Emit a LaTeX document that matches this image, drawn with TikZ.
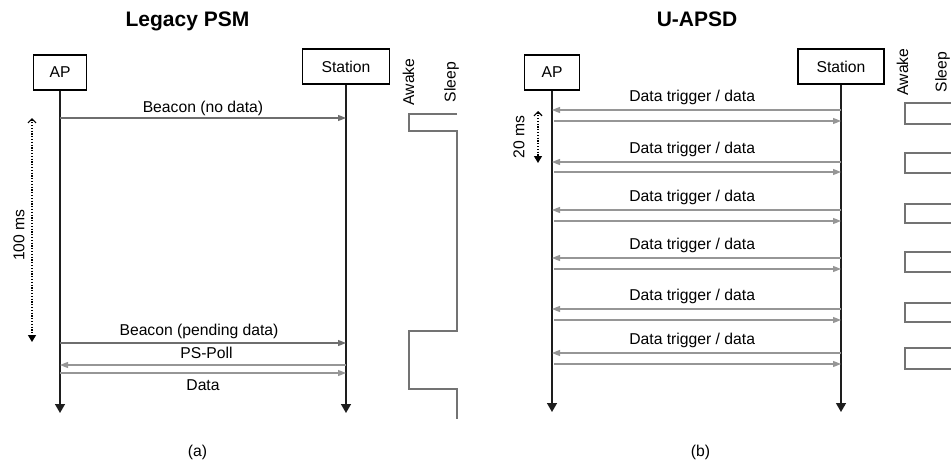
\documentclass[tikz,border=0pt]{standalone}
\usepackage{fontspec}
\setmainfont{Liberation Sans}
\usetikzlibrary{arrows.meta}
\definecolor{LifeColor}{RGB}{30,30,30}
\definecolor{MsgColor}{RGB}{110,110,110}
\definecolor{ReplyColor}{RGB}{150,150,150}
\definecolor{StateColor}{RGB}{115,115,115}

\begin{document}
\begin{tikzpicture}[x=1pt, y=-1pt,
    font=\fontsize{15.7}{18}\selectfont,
    title/.style={font=\fontsize{21}{24}\selectfont\bfseries, anchor=base},
    entity/.style={draw, line width=1.1pt, minimum height=35pt, inner sep=0pt},
    life/.style={draw=LifeColor, line width=1.4pt, -{Triangle[length=9pt, width=10pt]}},
    msg/.style={draw=MsgColor, line width=1.3pt, -{Triangle[length=8pt, width=6pt]}},
    reply/.style={msg, draw=ReplyColor},
    lbl/.style={anchor=base, inner sep=0pt},
    period/.style={line width=1.2pt, dash pattern=on 1.2pt off 1.6pt,
        {Straight Barb[length=4pt, width=8pt]}-{Triangle[length=7pt, width=8pt]}},
    state/.style={draw=StateColor, line width=1.2pt}]

    \useasboundingbox (0,0) rectangle (951,466);
    \clip (0,0) rectangle (951,466);

    % (a) legacy PSM
    \node[title] (TitleA) at (187.5,26) {Legacy PSM};
    \node[entity, minimum width=53pt] (APa) at (60,72.5) {AP};
    \node[entity, minimum width=87pt] (STa) at (346,66.5) {Station};
    \coordinate (APa-end) at (60,413);
    \coordinate (STa-end) at (346,413);
    \draw[life] (APa) -- (APa-end);
    \draw[life] (STa) -- (STa-end);

    \foreach \n/\y in {1/118, 2/343, 3/365, 4/373} {
        \coordinate (APa-\n) at (60,\y);
        \coordinate (STa-\n) at (346,\y);
    }
    \draw[msg] (APa-1) -- node[lbl, yshift=6pt] {Beacon (no data)} (STa-1);
    \draw[msg] (APa-2) -- node[lbl, xshift=-4pt, yshift=8pt] {Beacon (pending data)} (STa-2);
    \draw[reply] (STa-3) -- node[lbl, xshift=3.5pt, yshift=7pt] {PS-Poll} (APa-3);
    \draw[reply] (APa-4) -- node[lbl, yshift=-17pt] {Data} (STa-4);

    \coordinate (PeriodA-top) at (32,118);
    \coordinate (PeriodA-bot) at (32,342);
    \draw[period] (PeriodA-top) -- (PeriodA-bot);
    \node[rotate=90] (PeriodA) at (19,235) {100 ms};

    \node[rotate=90] (AwakeA) at (408.5,82) {Awake};
    \node[rotate=90] (SleepA) at (451.5,82) {Sleep};
    \draw[state] (457,114) -- (409,114) -- (409,131) -- (457,131) -- (457,331)
        -- (409,331) -- (409,389) -- (457,389) -- (457,419);

    \node[lbl] (CapA) at (197.5,456) {(a)};

    % (b) U-APSD
    \node[title] (TitleB) at (697,26) {U-APSD};
    \node[entity, minimum width=55pt] (APb) at (552,72.5) {AP};
    \node[entity, minimum width=86pt] (STb) at (841,66.5) {Station};
    \coordinate (APb-end) at (552,412);
    \coordinate (STb-end) at (841,412);
    \draw[life] (APb) -- (APb-end);
    \draw[life] (STb) -- (STb-end);

    \foreach \n/\yin/\yout/\ytop/\ybot in {
        1/110/121/103/124, 2/162/172/153/173, 3/210/221/204/223,
        4/258/269/252/272, 5/309/320/303/322, 6/353/364/348/369} {
        \coordinate (APb-\n-in) at (552,\yin);
        \coordinate (STb-\n-in) at (841,\yin);
        \coordinate (APb-\n-out) at (554,\yout);
        \coordinate (STb-\n-out) at (841,\yout);
        \draw[reply] (STb-\n-in) -- node[lbl, pos=0.515, yshift=8.5pt] {Data trigger / data} (APb-\n-in);
        \draw[reply] (APb-\n-out) -- (STb-\n-out);
        \draw[state] (956,\ytop) -- (905,\ytop) -- (905,\ybot) -- (956,\ybot);
    }

    \coordinate (PeriodB-top) at (538,111);
    \coordinate (PeriodB-bot) at (538,163);
    \draw[period] (PeriodB-top) -- (PeriodB-bot);
    \node[rotate=90] (PeriodB) at (519,137) {20 ms};

    \node[rotate=90] (AwakeB) at (902.5,72) {Awake};
    \node[rotate=90] (SleepB) at (942.5,72) {Sleep};

    \node[lbl] (CapB) at (700.5,456) {(b)};
\end{tikzpicture}
\end{document}
